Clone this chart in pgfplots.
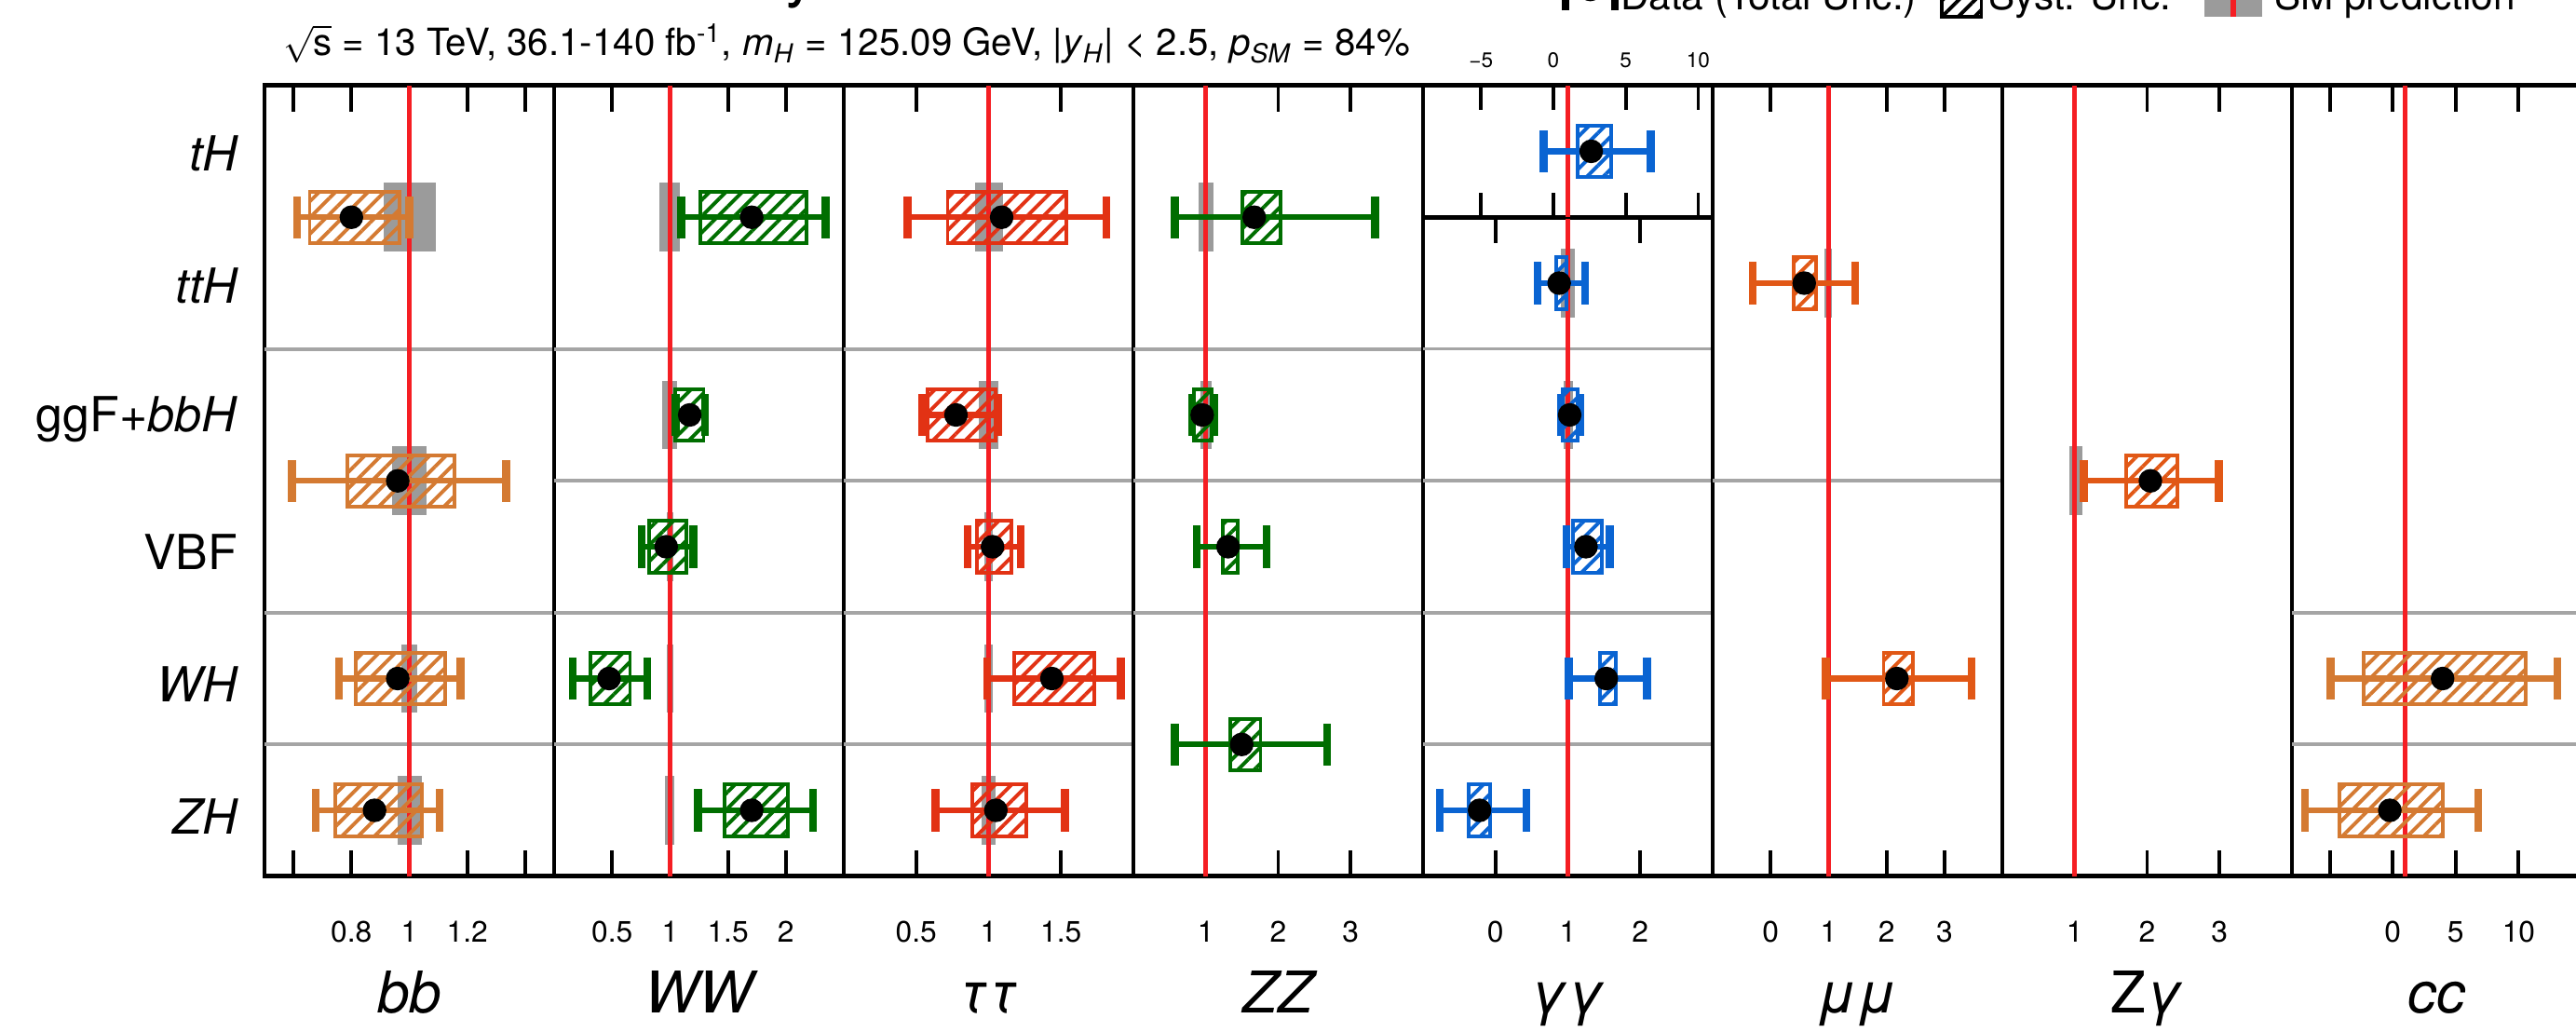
\documentclass[border=0pt]{standalone}
\usepackage{fontspec}
\setmainfont{TeX Gyre Heros}
\usepackage{pgfplots}
\pgfplotsset{compat=1.18}
\usetikzlibrary{patterns.meta}

\definecolor{cbb}{RGB}{212,122,50}
\definecolor{cww}{RGB}{0,110,0}
\definecolor{ctt}{RGB}{226,50,20}
\definecolor{cgg}{RGB}{10,100,210}
\definecolor{cmm}{RGB}{225,88,22}
\definecolor{smgray}{RGB}{155,155,155}
\definecolor{smred}{RGB}{245,30,35}
\definecolor{sepgray}{RGB}{165,165,165}

\newcommand\SMbox[3]{%
 \pgfmathsetmacro\yA{#1-0.26}\pgfmathsetmacro\yB{#1+0.26}%
 \addplot[draw=none, fill=smgray] coordinates {(#2,\yA) (#3,\yA) (#3,\yB) (#2,\yB)} --cycle;
}
\newcommand\SMline[1]{\addplot[smred, line width=1.5pt] coordinates {(1,0) (1,#1)};}
\newcommand\sep[3]{\addplot[sepgray, line width=1pt] coordinates {(#1,#3) (#2,#3)};}
% color, y, mu, total lo, total hi, syst lo, syst hi
\newcommand\meas[7]{%
 \pgfmathsetmacro\yA{#2-0.195}\pgfmathsetmacro\yB{#2+0.195}%
 \pgfmathsetmacro\yC{#2-0.16}\pgfmathsetmacro\yD{#2+0.16}%
 \addplot[draw=#1, line width=1.1pt, pattern={Lines[angle=45,distance=3.5pt,line width=1.1pt]}, pattern color=#1] coordinates {(#6,\yA) (#7,\yA) (#7,\yB) (#6,\yB)} --cycle;
 \addplot[#1, line width=1.8pt] coordinates {(#4,#2) (#5,#2)};
 \addplot[#1, line width=2.4pt] coordinates {(#4,\yC) (#4,\yD)};
 \addplot[#1, line width=2.4pt] coordinates {(#5,\yC) (#5,\yD)};
 \addplot[black, only marks, mark=*, mark size=3.4pt] coordinates {(#3,#2)};
}

\pgfplotsset{panel/.style={
  scale only axis, width=88.15pt, height=240.65pt, anchor=south west,
  ymin=0, ymax=6, ytick=\empty,
  axis line style={line width=1.3pt},
  tick align=inside, major tick length=8pt,
  every tick/.style={black, line width=1.1pt},
  xticklabel style={font=\fontsize{9}{11}\selectfont, yshift=-10.2pt},
}}

\begin{document}
\begin{tikzpicture}[x=1pt,y=1pt]
\useasboundingbox (0,0) rectangle (784,314);

% bb
\begin{axis}[panel, at={(80.5pt,47.35pt)}, xmin=0.5, xmax=1.5,
  xtick={0.6,0.8,1,1.2,1.4}, xticklabels={,0.8,1,1.2,}]
\sep{0.5}{1.5}{4}\sep{0.5}{1.5}{2}\sep{0.5}{1.5}{1}
\SMbox{5}{0.913}{1.09}\SMbox{3}{0.94}{1.06}\SMbox{1.5}{0.972}{1.028}\SMbox{0.5}{0.96}{1.042}
\SMline{6}
\meas{cbb}{5}{0.80}{0.613}{1.00}{0.656}{0.967}
\meas{cbb}{3}{0.96}{0.595}{1.334}{0.786}{1.155}
\meas{cbb}{1.5}{0.96}{0.757}{1.177}{0.815}{1.125}
\meas{cbb}{0.5}{0.88}{0.676}{1.105}{0.743}{1.042}
\end{axis}

% WW
\begin{axis}[panel, at={(168.65pt,47.35pt)}, xmin=0, xmax=2.5,
  xtick={0.5,1,1.5,2}, xticklabels={0.5,1,1.5,2}]
\sep{0}{2.5}{4}\sep{0}{2.5}{3}\sep{0}{2.5}{2}\sep{0}{2.5}{1}
\SMbox{5}{0.906}{1.087}\SMbox{3.5}{0.93}{1.06}\SMbox{2.5}{0.97}{1.03}\SMbox{1.5}{0.97}{1.03}\SMbox{0.5}{0.955}{1.04}
\SMline{6}
\meas{cww}{5}{1.705}{1.097}{2.343}{1.265}{2.18}
\meas{cww}{3.5}{1.17}{1.05}{1.30}{1.043}{1.29}
\meas{cww}{2.5}{0.967}{0.756}{1.20}{0.817}{1.14}
\meas{cww}{1.5}{0.474}{0.159}{0.805}{0.312}{0.655}
\meas{cww}{0.5}{1.705}{1.24}{2.236}{1.47}{2.014}
\end{axis}

% tautau
\begin{axis}[panel, at={(256.8pt,47.35pt)}, xmin=0, xmax=2,
  xtick={0.5,1,1.5}, xticklabels={0.5,1,1.5}]
\sep{0}{2}{4}\sep{0}{2}{3}\sep{0}{2}{2}\sep{0}{2}{1}
\SMbox{5}{0.906}{1.098}\SMbox{3.5}{0.935}{1.07}\SMbox{2.5}{0.97}{1.03}\SMbox{1.5}{0.97}{1.03}\SMbox{0.5}{0.95}{1.05}
\SMline{6}
\meas{ctt}{5}{1.09}{0.44}{1.815}{0.717}{1.536}
\meas{ctt}{3.5}{0.775}{0.54}{1.064}{0.578}{1.046}
\meas{ctt}{2.5}{1.027}{0.855}{1.222}{0.918}{1.156}
\meas{ctt}{1.5}{1.437}{0.99}{1.914}{1.175}{1.728}
\meas{ctt}{0.5}{1.05}{0.634}{1.528}{0.889}{1.262}
\end{axis}

% ZZ
\begin{axis}[panel, at={(344.95pt,47.35pt)}, xmin=0, xmax=4,
  xtick={1,2,3}, xticklabels={1,2,3}]
\sep{0}{4}{4}\sep{0}{4}{3}\sep{0}{4}{2}
\SMbox{5}{0.905}{1.105}\SMbox{3.5}{0.93}{1.08}\SMbox{2.5}{0.97}{1.03}\SMbox{1}{0.97}{1.03}
\SMline{6}
\meas{cww}{5}{1.668}{0.575}{3.336}{1.507}{2.032}
\meas{cww}{3.5}{0.95}{0.81}{1.11}{0.84}{1.08}
\meas{cww}{2.5}{1.307}{0.875}{1.84}{1.232}{1.44}
\meas{cww}{1}{1.495}{0.575}{2.675}{1.334}{1.755}
\end{axis}

% gamma gamma (main)
\begin{axis}[panel, at={(433.1pt,47.35pt)}, height=200.55pt, ymax=5, xmin=-1, xmax=3,
  xtick={0,1,2}, xticklabels={0,1,2}]
\sep{-1}{3}{4}\sep{-1}{3}{3}\sep{-1}{3}{2}\sep{-1}{3}{1}
\SMbox{4.5}{0.90}{1.10}\SMbox{3.5}{0.94}{1.07}\SMbox{2.5}{0.97}{1.03}\SMbox{1.5}{0.97}{1.03}\SMbox{0.5}{0.97}{1.03}
\SMline{5}
\meas{cgg}{4.5}{0.88}{0.58}{1.24}{0.84}{0.98}
\meas{cgg}{3.5}{1.025}{0.90}{1.17}{0.93}{1.13}
\meas{cgg}{2.5}{1.25}{0.98}{1.58}{1.07}{1.47}
\meas{cgg}{1.5}{1.53}{1.01}{2.09}{1.44}{1.66}
\meas{cgg}{0.5}{-0.22}{-0.77}{0.43}{-0.37}{-0.07}
\end{axis}

% gamma gamma (tH)
\begin{axis}[panel, at={(433.1pt,247.9pt)}, height=40.1pt, ymin=0, ymax=1, xmin=-9, xmax=11,
  xtick={-5,0,5,10}, xticklabels={−5,0,5,10}, xticklabel pos=right, major tick length=7.5pt,
  xticklabel style={font=\fontsize{6.4}{8}\selectfont, yshift=12.0pt}]
\SMline{1}
\meas{cgg}{0.5}{2.61}{-0.67}{6.72}{1.65}{4.0}
\end{axis}

% mu mu
\begin{axis}[panel, at={(521.25pt,47.35pt)}, xmin=-1, xmax=4,
  xtick={0,1,2,3}, xticklabels={0,1,2,3}]
\sep{-1}{4}{3}
\SMbox{4.5}{0.93}{1.05}\SMbox{1.5}{0.97}{1.03}
\SMline{6}
\meas{cmm}{4.5}{0.58}{-0.31}{1.46}{0.40}{0.78}
\meas{cmm}{1.5}{2.18}{0.95}{3.47}{1.95}{2.46}
\end{axis}

% Z gamma
\begin{axis}[panel, at={(609.4pt,47.35pt)}, xmin=0, xmax=4,
  xtick={1,2,3}, xticklabels={1,2,3}]
\SMbox{3}{0.93}{1.11}
\SMline{6}
\meas{cmm}{3}{2.045}{1.125}{2.99}{1.715}{2.42}
\end{axis}

% cc
\begin{axis}[panel, at={(697.55pt,47.35pt)}, xmin=-8, xmax=15,
  xtick={-5,0,5,10}, xticklabels={,0,5,10}]
\sep{-8}{15}{2}\sep{-8}{15}{1}
\SMline{6}
\meas{cbb}{1.5}{3.96}{-4.93}{13.07}{-2.3}{10.56}
\meas{cbb}{0.5}{-0.23}{-6.98}{6.79}{-4.26}{3.96}
\end{axis}

% row labels
\begin{scope}[every node/.style={anchor=base east, font=\fontsize{14.7}{17}\selectfont, inner sep=0pt}]
\node at (72.5,262) {\itshape tH};
\node at (72.5,221.7) {\itshape ttH};
\node at (72.5,182.6) {ggF+\textit{bbH}};
\node at (72.5,140.8) {VBF};
\node at (72.5,100.5) {\itshape WH};
\node at (72.5,60.2) {\itshape ZH};
\end{scope}

% panel labels
\begin{scope}[every node/.style={anchor=base, font=\fontsize{17.5}{20}\selectfont, inner sep=0pt}]
\node at (124.6,5.75) {\itshape bb};
\node at (212.7,5.75) {\itshape WW};
\node at (300.9,5.75) {\itshape ττ};
\node at (389.0,5.75) {\itshape ZZ};
\node at (477.2,5.75) {\itshape γγ};
\node at (565.3,5.75) {\itshape μμ};
\node at (653.5,5.75) {Z\textit{γ}};
\node at (741.6,5.75) {\itshape cc};
\end{scope}

% header
\node[anchor=base west, inner sep=0pt, font=\fontsize{19}{22}\selectfont] at (86,315.5) {\textbf{\textit{ATLAS}} Preliminary};
\node[anchor=base west, inner sep=0pt, font=\fontsize{11.4}{14}\selectfont] at (86,297)
  {$\sqrt{\mbox{s}}$ = 13 TeV, 36.1-140 fb\textsuperscript{-1}, \textit{m}\textsubscript{\textit{H}} = 125.09 GeV, |\textit{y}\textsubscript{\textit{H}}| < 2.5, \textit{p}\textsubscript{\textit{SM}} = 84\%};

% legend (mostly above the visible area)
\draw[black, line width=1.8pt] (476.5,317) -- (491.5,317);
\draw[black, line width=2.4pt] (476.5,310.8) -- (476.5,323.2);
\draw[black, line width=2.4pt] (491.5,310.8) -- (491.5,323.2);
\fill[black] (484,317) circle (3.4);
\node[anchor=base west, inner sep=0pt, font=\fontsize{12}{14}\selectfont] at (493,311) {Data (Total Unc.)};
\draw[black, line width=1.1pt, pattern={Lines[angle=45,distance=3.5pt,line width=1.1pt]}, pattern color=black] (591,308.8) rectangle (603,321);
\node[anchor=base west, inner sep=0pt, font=\fontsize{12}{14}\selectfont] at (605,311) {Syst. Unc.};
\fill[smgray] (671,308.8) rectangle (688.5,325);
\draw[smred, line width=1.5pt] (679.7,308.8) -- (679.7,325);
\node[anchor=base west, inner sep=0pt, font=\fontsize{12}{14}\selectfont] at (692,311) {SM prediction};
\end{tikzpicture}
\end{document}
